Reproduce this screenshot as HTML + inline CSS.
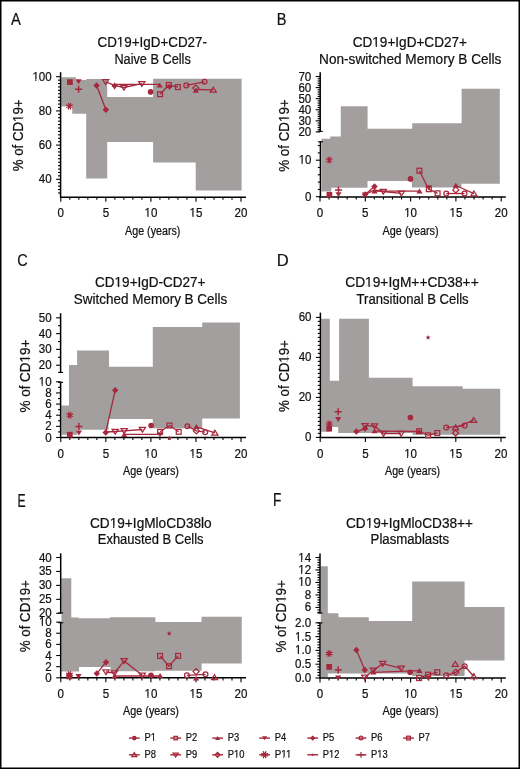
<!DOCTYPE html>
<html><head><meta charset="utf-8"><style>
html,body{margin:0;padding:0;background:#fff;}
svg{display:block;will-change:transform;}
text{font-family:"Liberation Sans", sans-serif;fill:#111;stroke:#111;stroke-width:0.22px;}
</style></head><body>
<svg width="520" height="769" viewBox="0 0 520 769">
<rect x="0" y="0" width="520" height="769" fill="#fff"/>
<rect x="0.75" y="0.75" width="518.5" height="767.5" fill="none" stroke="#000" stroke-width="1.5"/>
<text transform="translate(11.07,24.9) scale(0.862,1)" x="0" y="0" font-size="17.15">A</text>
<text x="97.5" y="46.6" font-size="13.8" text-anchor="start" textLength="109.5" lengthAdjust="spacingAndGlyphs">CD19+IgD+CD27-</text>
<text x="114.4" y="63.5" font-size="13.8" text-anchor="start" textLength="76.4" lengthAdjust="spacingAndGlyphs">Naive B Cells</text>
<text transform="translate(22.8,171.2) rotate(-90)" x="0" y="0" font-size="13.8" textLength="71.7" lengthAdjust="spacingAndGlyphs">% of CD19+</text>
<text x="125.1" y="234.7" font-size="11.9" text-anchor="start" textLength="55.3" lengthAdjust="spacingAndGlyphs">Age (years)</text>
<path d="M61.3,77.3V77.3H75.9V80H86.3V78.9H107.2V96.9H153.1V78.8H241.6V190.6H195.7V162.4H153.1V142H107.2V178.6H86.2V113.8H72.2V106.6H61.3Z" fill="#a39f9f"/>
<line x1="60.6" y1="72.2" x2="60.6" y2="197.2" stroke="#000" stroke-width="1.5"/>
<line x1="56.1" y1="179.3" x2="60.6" y2="179.3" stroke="#000" stroke-width="1.1"/>
<line x1="56.1" y1="145.1" x2="60.6" y2="145.1" stroke="#000" stroke-width="1.1"/>
<line x1="56.1" y1="110.9" x2="60.6" y2="110.9" stroke="#000" stroke-width="1.1"/>
<line x1="56.1" y1="76.7" x2="60.6" y2="76.7" stroke="#000" stroke-width="1.1"/>
<line x1="58" y1="192.98" x2="60.6" y2="192.98" stroke="#000" stroke-width="1.1"/>
<line x1="58" y1="189.56" x2="60.6" y2="189.56" stroke="#000" stroke-width="1.1"/>
<line x1="58" y1="186.14" x2="60.6" y2="186.14" stroke="#000" stroke-width="1.1"/>
<line x1="58" y1="182.72" x2="60.6" y2="182.72" stroke="#000" stroke-width="1.1"/>
<line x1="58" y1="175.88" x2="60.6" y2="175.88" stroke="#000" stroke-width="1.1"/>
<line x1="58" y1="172.46" x2="60.6" y2="172.46" stroke="#000" stroke-width="1.1"/>
<line x1="58" y1="169.04" x2="60.6" y2="169.04" stroke="#000" stroke-width="1.1"/>
<line x1="58" y1="165.62" x2="60.6" y2="165.62" stroke="#000" stroke-width="1.1"/>
<line x1="58" y1="162.2" x2="60.6" y2="162.2" stroke="#000" stroke-width="1.1"/>
<line x1="58" y1="158.78" x2="60.6" y2="158.78" stroke="#000" stroke-width="1.1"/>
<line x1="58" y1="155.36" x2="60.6" y2="155.36" stroke="#000" stroke-width="1.1"/>
<line x1="58" y1="151.94" x2="60.6" y2="151.94" stroke="#000" stroke-width="1.1"/>
<line x1="58" y1="148.52" x2="60.6" y2="148.52" stroke="#000" stroke-width="1.1"/>
<line x1="58" y1="141.68" x2="60.6" y2="141.68" stroke="#000" stroke-width="1.1"/>
<line x1="58" y1="138.26" x2="60.6" y2="138.26" stroke="#000" stroke-width="1.1"/>
<line x1="58" y1="134.84" x2="60.6" y2="134.84" stroke="#000" stroke-width="1.1"/>
<line x1="58" y1="131.42" x2="60.6" y2="131.42" stroke="#000" stroke-width="1.1"/>
<line x1="58" y1="128" x2="60.6" y2="128" stroke="#000" stroke-width="1.1"/>
<line x1="58" y1="124.58" x2="60.6" y2="124.58" stroke="#000" stroke-width="1.1"/>
<line x1="58" y1="121.16" x2="60.6" y2="121.16" stroke="#000" stroke-width="1.1"/>
<line x1="58" y1="117.74" x2="60.6" y2="117.74" stroke="#000" stroke-width="1.1"/>
<line x1="58" y1="114.32" x2="60.6" y2="114.32" stroke="#000" stroke-width="1.1"/>
<line x1="58" y1="107.48" x2="60.6" y2="107.48" stroke="#000" stroke-width="1.1"/>
<line x1="58" y1="104.06" x2="60.6" y2="104.06" stroke="#000" stroke-width="1.1"/>
<line x1="58" y1="100.64" x2="60.6" y2="100.64" stroke="#000" stroke-width="1.1"/>
<line x1="58" y1="97.22" x2="60.6" y2="97.22" stroke="#000" stroke-width="1.1"/>
<line x1="58" y1="93.8" x2="60.6" y2="93.8" stroke="#000" stroke-width="1.1"/>
<line x1="58" y1="90.38" x2="60.6" y2="90.38" stroke="#000" stroke-width="1.1"/>
<line x1="58" y1="86.96" x2="60.6" y2="86.96" stroke="#000" stroke-width="1.1"/>
<line x1="58" y1="83.54" x2="60.6" y2="83.54" stroke="#000" stroke-width="1.1"/>
<line x1="58" y1="80.12" x2="60.6" y2="80.12" stroke="#000" stroke-width="1.1"/>
<text x="51.7" y="80.7" font-size="12.3" text-anchor="end" textLength="19.29" lengthAdjust="spacingAndGlyphs">100</text>
<text x="51.7" y="114.9" font-size="12.3" text-anchor="end" textLength="12.86" lengthAdjust="spacingAndGlyphs">80</text>
<text x="51.7" y="149.1" font-size="12.3" text-anchor="end" textLength="12.86" lengthAdjust="spacingAndGlyphs">60</text>
<text x="51.7" y="183.3" font-size="12.3" text-anchor="end" textLength="12.86" lengthAdjust="spacingAndGlyphs">40</text>
<line x1="60.05" y1="197.2" x2="246" y2="197.2" stroke="#000" stroke-width="1.5"/>
<line x1="60.8" y1="197.2" x2="60.8" y2="201.7" stroke="#000" stroke-width="1.1"/>
<line x1="69.81" y1="197.2" x2="69.81" y2="199.8" stroke="#000" stroke-width="1.1"/>
<line x1="78.82" y1="197.2" x2="78.82" y2="199.8" stroke="#000" stroke-width="1.1"/>
<line x1="87.83" y1="197.2" x2="87.83" y2="199.8" stroke="#000" stroke-width="1.1"/>
<line x1="96.84" y1="197.2" x2="96.84" y2="199.8" stroke="#000" stroke-width="1.1"/>
<line x1="105.85" y1="197.2" x2="105.85" y2="201.7" stroke="#000" stroke-width="1.1"/>
<line x1="114.86" y1="197.2" x2="114.86" y2="199.8" stroke="#000" stroke-width="1.1"/>
<line x1="123.87" y1="197.2" x2="123.87" y2="199.8" stroke="#000" stroke-width="1.1"/>
<line x1="132.88" y1="197.2" x2="132.88" y2="199.8" stroke="#000" stroke-width="1.1"/>
<line x1="141.89" y1="197.2" x2="141.89" y2="199.8" stroke="#000" stroke-width="1.1"/>
<line x1="150.9" y1="197.2" x2="150.9" y2="201.7" stroke="#000" stroke-width="1.1"/>
<line x1="159.91" y1="197.2" x2="159.91" y2="199.8" stroke="#000" stroke-width="1.1"/>
<line x1="168.92" y1="197.2" x2="168.92" y2="199.8" stroke="#000" stroke-width="1.1"/>
<line x1="177.93" y1="197.2" x2="177.93" y2="199.8" stroke="#000" stroke-width="1.1"/>
<line x1="186.94" y1="197.2" x2="186.94" y2="199.8" stroke="#000" stroke-width="1.1"/>
<line x1="195.95" y1="197.2" x2="195.95" y2="201.7" stroke="#000" stroke-width="1.1"/>
<line x1="204.96" y1="197.2" x2="204.96" y2="199.8" stroke="#000" stroke-width="1.1"/>
<line x1="213.97" y1="197.2" x2="213.97" y2="199.8" stroke="#000" stroke-width="1.1"/>
<line x1="222.98" y1="197.2" x2="222.98" y2="199.8" stroke="#000" stroke-width="1.1"/>
<line x1="231.99" y1="197.2" x2="231.99" y2="199.8" stroke="#000" stroke-width="1.1"/>
<line x1="241" y1="197.2" x2="241" y2="201.7" stroke="#000" stroke-width="1.1"/>
<text x="60.8" y="217.3" font-size="12.3" text-anchor="middle" textLength="6.43" lengthAdjust="spacingAndGlyphs">0</text>
<text x="105.85" y="217.3" font-size="12.3" text-anchor="middle" textLength="6.43" lengthAdjust="spacingAndGlyphs">5</text>
<text x="150.9" y="217.3" font-size="12.3" text-anchor="middle" textLength="12.86" lengthAdjust="spacingAndGlyphs">10</text>
<text x="195.95" y="217.3" font-size="12.3" text-anchor="middle" textLength="12.86" lengthAdjust="spacingAndGlyphs">15</text>
<text x="241" y="217.3" font-size="12.3" text-anchor="middle" textLength="12.86" lengthAdjust="spacingAndGlyphs">20</text>
<text transform="translate(276.8,24.9) scale(0.854,1)" x="0" y="0" font-size="17.15">B</text>
<text x="352.7" y="46.8" font-size="13.8" text-anchor="start" textLength="114.3" lengthAdjust="spacingAndGlyphs">CD19+IgD+CD27+</text>
<text x="319.1" y="63.6" font-size="13.8" text-anchor="start" textLength="182.3" lengthAdjust="spacingAndGlyphs">Non-switched Memory B Cells</text>
<text transform="translate(288.8,171.7) rotate(-90)" x="0" y="0" font-size="13.8" textLength="72.3" lengthAdjust="spacingAndGlyphs">% of CD19+</text>
<text x="382.6" y="234.7" font-size="11.9" text-anchor="start" textLength="56" lengthAdjust="spacingAndGlyphs">Age (years)</text>
<path d="M321.5,138.8V138.8H330.2V136.4H340.8V106.3H367.6V128.7H412.2V123.3H461.6V88.7H499.8V183.8H461.4V187.5H411.9V180.9H367.5V187.7H331.3V191.6H321.5Z" fill="#a39f9f"/>
<line x1="320.2" y1="72.2" x2="320.2" y2="131.9" stroke="#000" stroke-width="1.5"/>
<line x1="315.7" y1="131.9" x2="320.2" y2="131.9" stroke="#000" stroke-width="1.1"/>
<line x1="315.7" y1="120.82" x2="320.2" y2="120.82" stroke="#000" stroke-width="1.1"/>
<line x1="315.7" y1="109.74" x2="320.2" y2="109.74" stroke="#000" stroke-width="1.1"/>
<line x1="315.7" y1="98.66" x2="320.2" y2="98.66" stroke="#000" stroke-width="1.1"/>
<line x1="315.7" y1="87.58" x2="320.2" y2="87.58" stroke="#000" stroke-width="1.1"/>
<line x1="315.7" y1="76.5" x2="320.2" y2="76.5" stroke="#000" stroke-width="1.1"/>
<line x1="317.6" y1="129.68" x2="320.2" y2="129.68" stroke="#000" stroke-width="1.1"/>
<line x1="317.6" y1="127.47" x2="320.2" y2="127.47" stroke="#000" stroke-width="1.1"/>
<line x1="317.6" y1="125.25" x2="320.2" y2="125.25" stroke="#000" stroke-width="1.1"/>
<line x1="317.6" y1="123.04" x2="320.2" y2="123.04" stroke="#000" stroke-width="1.1"/>
<line x1="317.6" y1="118.6" x2="320.2" y2="118.6" stroke="#000" stroke-width="1.1"/>
<line x1="317.6" y1="116.39" x2="320.2" y2="116.39" stroke="#000" stroke-width="1.1"/>
<line x1="317.6" y1="114.17" x2="320.2" y2="114.17" stroke="#000" stroke-width="1.1"/>
<line x1="317.6" y1="111.96" x2="320.2" y2="111.96" stroke="#000" stroke-width="1.1"/>
<line x1="317.6" y1="107.52" x2="320.2" y2="107.52" stroke="#000" stroke-width="1.1"/>
<line x1="317.6" y1="105.31" x2="320.2" y2="105.31" stroke="#000" stroke-width="1.1"/>
<line x1="317.6" y1="103.09" x2="320.2" y2="103.09" stroke="#000" stroke-width="1.1"/>
<line x1="317.6" y1="100.88" x2="320.2" y2="100.88" stroke="#000" stroke-width="1.1"/>
<line x1="317.6" y1="96.44" x2="320.2" y2="96.44" stroke="#000" stroke-width="1.1"/>
<line x1="317.6" y1="94.23" x2="320.2" y2="94.23" stroke="#000" stroke-width="1.1"/>
<line x1="317.6" y1="92.01" x2="320.2" y2="92.01" stroke="#000" stroke-width="1.1"/>
<line x1="317.6" y1="89.8" x2="320.2" y2="89.8" stroke="#000" stroke-width="1.1"/>
<line x1="317.6" y1="85.36" x2="320.2" y2="85.36" stroke="#000" stroke-width="1.1"/>
<line x1="317.6" y1="83.15" x2="320.2" y2="83.15" stroke="#000" stroke-width="1.1"/>
<line x1="317.6" y1="80.93" x2="320.2" y2="80.93" stroke="#000" stroke-width="1.1"/>
<line x1="317.6" y1="78.72" x2="320.2" y2="78.72" stroke="#000" stroke-width="1.1"/>
<text x="311.3" y="135.9" font-size="12.3" text-anchor="end" textLength="12.86" lengthAdjust="spacingAndGlyphs">20</text>
<text x="311.3" y="124.82" font-size="12.3" text-anchor="end" textLength="12.86" lengthAdjust="spacingAndGlyphs">30</text>
<text x="311.3" y="113.74" font-size="12.3" text-anchor="end" textLength="12.86" lengthAdjust="spacingAndGlyphs">40</text>
<text x="311.3" y="102.66" font-size="12.3" text-anchor="end" textLength="12.86" lengthAdjust="spacingAndGlyphs">50</text>
<text x="311.3" y="91.58" font-size="12.3" text-anchor="end" textLength="12.86" lengthAdjust="spacingAndGlyphs">60</text>
<text x="311.3" y="80.5" font-size="12.3" text-anchor="end" textLength="12.86" lengthAdjust="spacingAndGlyphs">70</text>
<line x1="317.7" y1="131.4" x2="322.7" y2="131.4" stroke="#000" stroke-width="1.1"/>
<line x1="320.4" y1="141.3" x2="320.4" y2="196.9" stroke="#000" stroke-width="1.5"/>
<line x1="315.9" y1="196.7" x2="320.4" y2="196.7" stroke="#000" stroke-width="1.1"/>
<line x1="315.9" y1="160.2" x2="320.4" y2="160.2" stroke="#000" stroke-width="1.1"/>
<line x1="317.8" y1="189.4" x2="320.4" y2="189.4" stroke="#000" stroke-width="1.1"/>
<line x1="317.8" y1="182.1" x2="320.4" y2="182.1" stroke="#000" stroke-width="1.1"/>
<line x1="317.8" y1="174.8" x2="320.4" y2="174.8" stroke="#000" stroke-width="1.1"/>
<line x1="317.8" y1="167.5" x2="320.4" y2="167.5" stroke="#000" stroke-width="1.1"/>
<line x1="317.8" y1="152.9" x2="320.4" y2="152.9" stroke="#000" stroke-width="1.1"/>
<line x1="317.8" y1="145.6" x2="320.4" y2="145.6" stroke="#000" stroke-width="1.1"/>
<text x="311.5" y="200.7" font-size="12.3" text-anchor="end" textLength="6.43" lengthAdjust="spacingAndGlyphs">0</text>
<text x="311.5" y="164.2" font-size="12.3" text-anchor="end" textLength="12.86" lengthAdjust="spacingAndGlyphs">10</text>
<line x1="317.9" y1="141.8" x2="322.9" y2="141.8" stroke="#000" stroke-width="1.1"/>
<line x1="319.25" y1="196.9" x2="505.8" y2="196.9" stroke="#000" stroke-width="1.5"/>
<line x1="320" y1="196.9" x2="320" y2="201.4" stroke="#000" stroke-width="1.1"/>
<line x1="329.06" y1="196.9" x2="329.06" y2="199.5" stroke="#000" stroke-width="1.1"/>
<line x1="338.12" y1="196.9" x2="338.12" y2="199.5" stroke="#000" stroke-width="1.1"/>
<line x1="347.18" y1="196.9" x2="347.18" y2="199.5" stroke="#000" stroke-width="1.1"/>
<line x1="356.24" y1="196.9" x2="356.24" y2="199.5" stroke="#000" stroke-width="1.1"/>
<line x1="365.3" y1="196.9" x2="365.3" y2="201.4" stroke="#000" stroke-width="1.1"/>
<line x1="374.36" y1="196.9" x2="374.36" y2="199.5" stroke="#000" stroke-width="1.1"/>
<line x1="383.42" y1="196.9" x2="383.42" y2="199.5" stroke="#000" stroke-width="1.1"/>
<line x1="392.48" y1="196.9" x2="392.48" y2="199.5" stroke="#000" stroke-width="1.1"/>
<line x1="401.54" y1="196.9" x2="401.54" y2="199.5" stroke="#000" stroke-width="1.1"/>
<line x1="410.6" y1="196.9" x2="410.6" y2="201.4" stroke="#000" stroke-width="1.1"/>
<line x1="419.66" y1="196.9" x2="419.66" y2="199.5" stroke="#000" stroke-width="1.1"/>
<line x1="428.72" y1="196.9" x2="428.72" y2="199.5" stroke="#000" stroke-width="1.1"/>
<line x1="437.78" y1="196.9" x2="437.78" y2="199.5" stroke="#000" stroke-width="1.1"/>
<line x1="446.84" y1="196.9" x2="446.84" y2="199.5" stroke="#000" stroke-width="1.1"/>
<line x1="455.9" y1="196.9" x2="455.9" y2="201.4" stroke="#000" stroke-width="1.1"/>
<line x1="464.96" y1="196.9" x2="464.96" y2="199.5" stroke="#000" stroke-width="1.1"/>
<line x1="474.02" y1="196.9" x2="474.02" y2="199.5" stroke="#000" stroke-width="1.1"/>
<line x1="483.08" y1="196.9" x2="483.08" y2="199.5" stroke="#000" stroke-width="1.1"/>
<line x1="492.14" y1="196.9" x2="492.14" y2="199.5" stroke="#000" stroke-width="1.1"/>
<line x1="501.2" y1="196.9" x2="501.2" y2="201.4" stroke="#000" stroke-width="1.1"/>
<text x="320" y="217.3" font-size="12.3" text-anchor="middle" textLength="6.43" lengthAdjust="spacingAndGlyphs">0</text>
<text x="365.3" y="217.3" font-size="12.3" text-anchor="middle" textLength="6.43" lengthAdjust="spacingAndGlyphs">5</text>
<text x="410.6" y="217.3" font-size="12.3" text-anchor="middle" textLength="12.86" lengthAdjust="spacingAndGlyphs">10</text>
<text x="455.9" y="217.3" font-size="12.3" text-anchor="middle" textLength="12.86" lengthAdjust="spacingAndGlyphs">15</text>
<text x="501.2" y="217.3" font-size="12.3" text-anchor="middle" textLength="12.86" lengthAdjust="spacingAndGlyphs">20</text>
<text transform="translate(17.26,266.03) scale(0.843,1)" x="0" y="0" font-size="17.23">C</text>
<text x="95.1" y="287.2" font-size="13.8" text-anchor="start" textLength="110.4" lengthAdjust="spacingAndGlyphs">CD19+IgD-CD27+</text>
<text x="73.8" y="303.6" font-size="13.8" text-anchor="start" textLength="153.5" lengthAdjust="spacingAndGlyphs">Switched Memory B Cells</text>
<text transform="translate(30.1,412.5) rotate(-90)" x="0" y="0" font-size="13.8" textLength="72.8" lengthAdjust="spacingAndGlyphs">% of CD19+</text>
<text x="123.1" y="474.7" font-size="11.9" text-anchor="start" textLength="55.8" lengthAdjust="spacingAndGlyphs">Age (years)</text>
<path d="M61.4,405.5V405.5H69V364.9H77.1V350.5H109V366.8H152.8V326.9H202.2V322.5H239.9V418.6H202.2V428.3H152.7V419.1H108.5V429.8H77V434.8H61.4Z" fill="#a39f9f"/>
<line x1="60.6" y1="313.2" x2="60.6" y2="372.9" stroke="#000" stroke-width="1.5"/>
<line x1="56.1" y1="365.2" x2="60.6" y2="365.2" stroke="#000" stroke-width="1.1"/>
<line x1="56.1" y1="349.4" x2="60.6" y2="349.4" stroke="#000" stroke-width="1.1"/>
<line x1="56.1" y1="333.6" x2="60.6" y2="333.6" stroke="#000" stroke-width="1.1"/>
<line x1="56.1" y1="317.8" x2="60.6" y2="317.8" stroke="#000" stroke-width="1.1"/>
<line x1="58" y1="357.3" x2="60.6" y2="357.3" stroke="#000" stroke-width="1.1"/>
<line x1="58" y1="341.5" x2="60.6" y2="341.5" stroke="#000" stroke-width="1.1"/>
<line x1="58" y1="325.7" x2="60.6" y2="325.7" stroke="#000" stroke-width="1.1"/>
<text x="51.7" y="369.2" font-size="12.3" text-anchor="end" textLength="12.86" lengthAdjust="spacingAndGlyphs">20</text>
<text x="51.7" y="353.4" font-size="12.3" text-anchor="end" textLength="12.86" lengthAdjust="spacingAndGlyphs">30</text>
<text x="51.7" y="337.6" font-size="12.3" text-anchor="end" textLength="12.86" lengthAdjust="spacingAndGlyphs">40</text>
<text x="51.7" y="321.8" font-size="12.3" text-anchor="end" textLength="12.86" lengthAdjust="spacingAndGlyphs">50</text>
<line x1="58.1" y1="372.4" x2="63.1" y2="372.4" stroke="#000" stroke-width="1.1"/>
<line x1="60.6" y1="381.8" x2="60.6" y2="437.5" stroke="#000" stroke-width="1.5"/>
<line x1="56.1" y1="437.5" x2="60.6" y2="437.5" stroke="#000" stroke-width="1.1"/>
<line x1="56.1" y1="426.36" x2="60.6" y2="426.36" stroke="#000" stroke-width="1.1"/>
<line x1="56.1" y1="415.22" x2="60.6" y2="415.22" stroke="#000" stroke-width="1.1"/>
<line x1="56.1" y1="404.08" x2="60.6" y2="404.08" stroke="#000" stroke-width="1.1"/>
<line x1="56.1" y1="392.94" x2="60.6" y2="392.94" stroke="#000" stroke-width="1.1"/>
<line x1="56.1" y1="381.8" x2="60.6" y2="381.8" stroke="#000" stroke-width="1.1"/>
<line x1="58" y1="431.93" x2="60.6" y2="431.93" stroke="#000" stroke-width="1.1"/>
<line x1="58" y1="420.79" x2="60.6" y2="420.79" stroke="#000" stroke-width="1.1"/>
<line x1="58" y1="409.65" x2="60.6" y2="409.65" stroke="#000" stroke-width="1.1"/>
<line x1="58" y1="398.51" x2="60.6" y2="398.51" stroke="#000" stroke-width="1.1"/>
<line x1="58" y1="387.37" x2="60.6" y2="387.37" stroke="#000" stroke-width="1.1"/>
<text x="51.7" y="441.5" font-size="12.3" text-anchor="end" textLength="6.43" lengthAdjust="spacingAndGlyphs">0</text>
<text x="51.7" y="430.36" font-size="12.3" text-anchor="end" textLength="6.43" lengthAdjust="spacingAndGlyphs">2</text>
<text x="51.7" y="419.22" font-size="12.3" text-anchor="end" textLength="6.43" lengthAdjust="spacingAndGlyphs">4</text>
<text x="51.7" y="408.08" font-size="12.3" text-anchor="end" textLength="6.43" lengthAdjust="spacingAndGlyphs">6</text>
<text x="51.7" y="396.94" font-size="12.3" text-anchor="end" textLength="6.43" lengthAdjust="spacingAndGlyphs">8</text>
<text x="51.7" y="385.8" font-size="12.3" text-anchor="end" textLength="12.86" lengthAdjust="spacingAndGlyphs">10</text>
<line x1="58.1" y1="382.3" x2="63.1" y2="382.3" stroke="#000" stroke-width="1.1"/>
<line x1="60.05" y1="437.5" x2="246" y2="437.5" stroke="#000" stroke-width="1.5"/>
<line x1="60.8" y1="437.5" x2="60.8" y2="442" stroke="#000" stroke-width="1.1"/>
<line x1="69.81" y1="437.5" x2="69.81" y2="440.1" stroke="#000" stroke-width="1.1"/>
<line x1="78.82" y1="437.5" x2="78.82" y2="440.1" stroke="#000" stroke-width="1.1"/>
<line x1="87.83" y1="437.5" x2="87.83" y2="440.1" stroke="#000" stroke-width="1.1"/>
<line x1="96.84" y1="437.5" x2="96.84" y2="440.1" stroke="#000" stroke-width="1.1"/>
<line x1="105.85" y1="437.5" x2="105.85" y2="442" stroke="#000" stroke-width="1.1"/>
<line x1="114.86" y1="437.5" x2="114.86" y2="440.1" stroke="#000" stroke-width="1.1"/>
<line x1="123.87" y1="437.5" x2="123.87" y2="440.1" stroke="#000" stroke-width="1.1"/>
<line x1="132.88" y1="437.5" x2="132.88" y2="440.1" stroke="#000" stroke-width="1.1"/>
<line x1="141.89" y1="437.5" x2="141.89" y2="440.1" stroke="#000" stroke-width="1.1"/>
<line x1="150.9" y1="437.5" x2="150.9" y2="442" stroke="#000" stroke-width="1.1"/>
<line x1="159.91" y1="437.5" x2="159.91" y2="440.1" stroke="#000" stroke-width="1.1"/>
<line x1="168.92" y1="437.5" x2="168.92" y2="440.1" stroke="#000" stroke-width="1.1"/>
<line x1="177.93" y1="437.5" x2="177.93" y2="440.1" stroke="#000" stroke-width="1.1"/>
<line x1="186.94" y1="437.5" x2="186.94" y2="440.1" stroke="#000" stroke-width="1.1"/>
<line x1="195.95" y1="437.5" x2="195.95" y2="442" stroke="#000" stroke-width="1.1"/>
<line x1="204.96" y1="437.5" x2="204.96" y2="440.1" stroke="#000" stroke-width="1.1"/>
<line x1="213.97" y1="437.5" x2="213.97" y2="440.1" stroke="#000" stroke-width="1.1"/>
<line x1="222.98" y1="437.5" x2="222.98" y2="440.1" stroke="#000" stroke-width="1.1"/>
<line x1="231.99" y1="437.5" x2="231.99" y2="440.1" stroke="#000" stroke-width="1.1"/>
<line x1="241" y1="437.5" x2="241" y2="442" stroke="#000" stroke-width="1.1"/>
<text x="60.8" y="457.6" font-size="12.3" text-anchor="middle" textLength="6.43" lengthAdjust="spacingAndGlyphs">0</text>
<text x="105.85" y="457.6" font-size="12.3" text-anchor="middle" textLength="6.43" lengthAdjust="spacingAndGlyphs">5</text>
<text x="150.9" y="457.6" font-size="12.3" text-anchor="middle" textLength="12.86" lengthAdjust="spacingAndGlyphs">10</text>
<text x="195.95" y="457.6" font-size="12.3" text-anchor="middle" textLength="12.86" lengthAdjust="spacingAndGlyphs">15</text>
<text x="241" y="457.6" font-size="12.3" text-anchor="middle" textLength="12.86" lengthAdjust="spacingAndGlyphs">20</text>
<text transform="translate(276.64,265.6) scale(0.981,1)" x="0" y="0" font-size="16.86">D</text>
<text x="345.2" y="287.2" font-size="13.8" text-anchor="start" textLength="133.5" lengthAdjust="spacingAndGlyphs">CD19+IgM++CD38++</text>
<text x="356.6" y="303.6" font-size="13.8" text-anchor="start" textLength="112" lengthAdjust="spacingAndGlyphs">Transitional B Cells</text>
<text transform="translate(289.4,411.9) rotate(-90)" x="0" y="0" font-size="13.8" textLength="71.7" lengthAdjust="spacingAndGlyphs">% of CD19+</text>
<text x="385.1" y="474.7" font-size="11.9" text-anchor="start" textLength="55" lengthAdjust="spacingAndGlyphs">Age (years)</text>
<path d="M321.2,318.7V318.7H329.8V380.8H339.1V318.7H368.9V377.7H412.6V386.3H462.7V388.8H500.2V434.8H412.6V433H338.2V427H330.5V431.8H321.2Z" fill="#a39f9f"/>
<line x1="320.4" y1="312.6" x2="320.4" y2="437.4" stroke="#000" stroke-width="1.5"/>
<line x1="315.9" y1="437.4" x2="320.4" y2="437.4" stroke="#000" stroke-width="1.1"/>
<line x1="315.9" y1="397.4" x2="320.4" y2="397.4" stroke="#000" stroke-width="1.1"/>
<line x1="315.9" y1="357.4" x2="320.4" y2="357.4" stroke="#000" stroke-width="1.1"/>
<line x1="315.9" y1="317.4" x2="320.4" y2="317.4" stroke="#000" stroke-width="1.1"/>
<line x1="317.8" y1="433.4" x2="320.4" y2="433.4" stroke="#000" stroke-width="1.1"/>
<line x1="317.8" y1="429.4" x2="320.4" y2="429.4" stroke="#000" stroke-width="1.1"/>
<line x1="317.8" y1="425.4" x2="320.4" y2="425.4" stroke="#000" stroke-width="1.1"/>
<line x1="317.8" y1="421.4" x2="320.4" y2="421.4" stroke="#000" stroke-width="1.1"/>
<line x1="317.8" y1="417.4" x2="320.4" y2="417.4" stroke="#000" stroke-width="1.1"/>
<line x1="317.8" y1="413.4" x2="320.4" y2="413.4" stroke="#000" stroke-width="1.1"/>
<line x1="317.8" y1="409.4" x2="320.4" y2="409.4" stroke="#000" stroke-width="1.1"/>
<line x1="317.8" y1="405.4" x2="320.4" y2="405.4" stroke="#000" stroke-width="1.1"/>
<line x1="317.8" y1="401.4" x2="320.4" y2="401.4" stroke="#000" stroke-width="1.1"/>
<line x1="317.8" y1="393.4" x2="320.4" y2="393.4" stroke="#000" stroke-width="1.1"/>
<line x1="317.8" y1="389.4" x2="320.4" y2="389.4" stroke="#000" stroke-width="1.1"/>
<line x1="317.8" y1="385.4" x2="320.4" y2="385.4" stroke="#000" stroke-width="1.1"/>
<line x1="317.8" y1="381.4" x2="320.4" y2="381.4" stroke="#000" stroke-width="1.1"/>
<line x1="317.8" y1="377.4" x2="320.4" y2="377.4" stroke="#000" stroke-width="1.1"/>
<line x1="317.8" y1="373.4" x2="320.4" y2="373.4" stroke="#000" stroke-width="1.1"/>
<line x1="317.8" y1="369.4" x2="320.4" y2="369.4" stroke="#000" stroke-width="1.1"/>
<line x1="317.8" y1="365.4" x2="320.4" y2="365.4" stroke="#000" stroke-width="1.1"/>
<line x1="317.8" y1="361.4" x2="320.4" y2="361.4" stroke="#000" stroke-width="1.1"/>
<line x1="317.8" y1="353.4" x2="320.4" y2="353.4" stroke="#000" stroke-width="1.1"/>
<line x1="317.8" y1="349.4" x2="320.4" y2="349.4" stroke="#000" stroke-width="1.1"/>
<line x1="317.8" y1="345.4" x2="320.4" y2="345.4" stroke="#000" stroke-width="1.1"/>
<line x1="317.8" y1="341.4" x2="320.4" y2="341.4" stroke="#000" stroke-width="1.1"/>
<line x1="317.8" y1="337.4" x2="320.4" y2="337.4" stroke="#000" stroke-width="1.1"/>
<line x1="317.8" y1="333.4" x2="320.4" y2="333.4" stroke="#000" stroke-width="1.1"/>
<line x1="317.8" y1="329.4" x2="320.4" y2="329.4" stroke="#000" stroke-width="1.1"/>
<line x1="317.8" y1="325.4" x2="320.4" y2="325.4" stroke="#000" stroke-width="1.1"/>
<line x1="317.8" y1="321.4" x2="320.4" y2="321.4" stroke="#000" stroke-width="1.1"/>
<text x="311.5" y="441.4" font-size="12.3" text-anchor="end" textLength="6.43" lengthAdjust="spacingAndGlyphs">0</text>
<text x="311.5" y="401.4" font-size="12.3" text-anchor="end" textLength="12.86" lengthAdjust="spacingAndGlyphs">20</text>
<text x="311.5" y="361.4" font-size="12.3" text-anchor="end" textLength="12.86" lengthAdjust="spacingAndGlyphs">40</text>
<text x="311.5" y="321.4" font-size="12.3" text-anchor="end" textLength="12.86" lengthAdjust="spacingAndGlyphs">60</text>
<line x1="319.45" y1="437.4" x2="505.8" y2="437.4" stroke="#000" stroke-width="1.5"/>
<line x1="320.2" y1="437.4" x2="320.2" y2="441.9" stroke="#000" stroke-width="1.1"/>
<line x1="365.4" y1="437.4" x2="365.4" y2="441.9" stroke="#000" stroke-width="1.1"/>
<line x1="410.6" y1="437.4" x2="410.6" y2="441.9" stroke="#000" stroke-width="1.1"/>
<line x1="455.8" y1="437.4" x2="455.8" y2="441.9" stroke="#000" stroke-width="1.1"/>
<line x1="501" y1="437.4" x2="501" y2="441.9" stroke="#000" stroke-width="1.1"/>
<text x="320.2" y="457.6" font-size="12.3" text-anchor="middle" textLength="6.43" lengthAdjust="spacingAndGlyphs">0</text>
<text x="365.4" y="457.6" font-size="12.3" text-anchor="middle" textLength="6.43" lengthAdjust="spacingAndGlyphs">5</text>
<text x="410.6" y="457.6" font-size="12.3" text-anchor="middle" textLength="12.86" lengthAdjust="spacingAndGlyphs">10</text>
<text x="455.8" y="457.6" font-size="12.3" text-anchor="middle" textLength="12.86" lengthAdjust="spacingAndGlyphs">15</text>
<text x="501" y="457.6" font-size="12.3" text-anchor="middle" textLength="12.86" lengthAdjust="spacingAndGlyphs">20</text>
<text transform="translate(17.6,506.7) scale(0.676,1)" x="0" y="0" font-size="18.02">E</text>
<text x="90" y="527.5" font-size="13.8" text-anchor="start" textLength="121.7" lengthAdjust="spacingAndGlyphs">CD19+IgMloCD38lo</text>
<text x="97.8" y="544.3" font-size="13.8" text-anchor="start" textLength="105.8" lengthAdjust="spacingAndGlyphs">Exhausted B Cells</text>
<text transform="translate(30.1,652.2) rotate(-90)" x="0" y="0" font-size="13.8" textLength="72" lengthAdjust="spacingAndGlyphs">% of CD19+</text>
<text x="123.1" y="715" font-size="11.9" text-anchor="start" textLength="55.8" lengthAdjust="spacingAndGlyphs">Age (years)</text>
<path d="M61.4,578.3V578.3H71.3V617.5H78.6V618.3H109.8V617.3H155.4V621.9H201.5V616.7H241.7V663.5H201.6V670.8H155.4V671.3H110.5V667H79V671.5H61.4Z" fill="#a39f9f"/>
<line x1="60.7" y1="553.3" x2="60.7" y2="613.4" stroke="#000" stroke-width="1.5"/>
<line x1="56.2" y1="613.3" x2="60.7" y2="613.3" stroke="#000" stroke-width="1.1"/>
<line x1="56.2" y1="599.35" x2="60.7" y2="599.35" stroke="#000" stroke-width="1.1"/>
<line x1="56.2" y1="585.4" x2="60.7" y2="585.4" stroke="#000" stroke-width="1.1"/>
<line x1="56.2" y1="571.45" x2="60.7" y2="571.45" stroke="#000" stroke-width="1.1"/>
<line x1="56.2" y1="557.5" x2="60.7" y2="557.5" stroke="#000" stroke-width="1.1"/>
<text x="51.8" y="617.3" font-size="12.3" text-anchor="end" textLength="12.86" lengthAdjust="spacingAndGlyphs">20</text>
<text x="51.8" y="603.35" font-size="12.3" text-anchor="end" textLength="12.86" lengthAdjust="spacingAndGlyphs">25</text>
<text x="51.8" y="589.4" font-size="12.3" text-anchor="end" textLength="12.86" lengthAdjust="spacingAndGlyphs">30</text>
<text x="51.8" y="575.45" font-size="12.3" text-anchor="end" textLength="12.86" lengthAdjust="spacingAndGlyphs">35</text>
<text x="51.8" y="561.5" font-size="12.3" text-anchor="end" textLength="12.86" lengthAdjust="spacingAndGlyphs">40</text>
<line x1="58.2" y1="612.9" x2="63.2" y2="612.9" stroke="#000" stroke-width="1.1"/>
<line x1="60.7" y1="622.2" x2="60.7" y2="677.8" stroke="#000" stroke-width="1.5"/>
<line x1="56.2" y1="677.8" x2="60.7" y2="677.8" stroke="#000" stroke-width="1.1"/>
<line x1="56.2" y1="666.66" x2="60.7" y2="666.66" stroke="#000" stroke-width="1.1"/>
<line x1="56.2" y1="655.52" x2="60.7" y2="655.52" stroke="#000" stroke-width="1.1"/>
<line x1="56.2" y1="644.38" x2="60.7" y2="644.38" stroke="#000" stroke-width="1.1"/>
<line x1="56.2" y1="633.24" x2="60.7" y2="633.24" stroke="#000" stroke-width="1.1"/>
<line x1="56.2" y1="622.1" x2="60.7" y2="622.1" stroke="#000" stroke-width="1.1"/>
<text x="51.8" y="681.8" font-size="12.3" text-anchor="end" textLength="6.43" lengthAdjust="spacingAndGlyphs">0</text>
<text x="51.8" y="670.66" font-size="12.3" text-anchor="end" textLength="6.43" lengthAdjust="spacingAndGlyphs">2</text>
<text x="51.8" y="659.52" font-size="12.3" text-anchor="end" textLength="6.43" lengthAdjust="spacingAndGlyphs">4</text>
<text x="51.8" y="648.38" font-size="12.3" text-anchor="end" textLength="6.43" lengthAdjust="spacingAndGlyphs">6</text>
<text x="51.8" y="637.24" font-size="12.3" text-anchor="end" textLength="6.43" lengthAdjust="spacingAndGlyphs">8</text>
<text x="51.8" y="626.1" font-size="12.3" text-anchor="end" textLength="12.86" lengthAdjust="spacingAndGlyphs">10</text>
<line x1="58.2" y1="622.7" x2="63.2" y2="622.7" stroke="#000" stroke-width="1.1"/>
<line x1="60.05" y1="677.8" x2="246" y2="677.8" stroke="#000" stroke-width="1.5"/>
<line x1="60.8" y1="677.8" x2="60.8" y2="682.3" stroke="#000" stroke-width="1.1"/>
<line x1="69.81" y1="677.8" x2="69.81" y2="680.4" stroke="#000" stroke-width="1.1"/>
<line x1="78.82" y1="677.8" x2="78.82" y2="680.4" stroke="#000" stroke-width="1.1"/>
<line x1="87.83" y1="677.8" x2="87.83" y2="680.4" stroke="#000" stroke-width="1.1"/>
<line x1="96.84" y1="677.8" x2="96.84" y2="680.4" stroke="#000" stroke-width="1.1"/>
<line x1="105.85" y1="677.8" x2="105.85" y2="682.3" stroke="#000" stroke-width="1.1"/>
<line x1="114.86" y1="677.8" x2="114.86" y2="680.4" stroke="#000" stroke-width="1.1"/>
<line x1="123.87" y1="677.8" x2="123.87" y2="680.4" stroke="#000" stroke-width="1.1"/>
<line x1="132.88" y1="677.8" x2="132.88" y2="680.4" stroke="#000" stroke-width="1.1"/>
<line x1="141.89" y1="677.8" x2="141.89" y2="680.4" stroke="#000" stroke-width="1.1"/>
<line x1="150.9" y1="677.8" x2="150.9" y2="682.3" stroke="#000" stroke-width="1.1"/>
<line x1="159.91" y1="677.8" x2="159.91" y2="680.4" stroke="#000" stroke-width="1.1"/>
<line x1="168.92" y1="677.8" x2="168.92" y2="680.4" stroke="#000" stroke-width="1.1"/>
<line x1="177.93" y1="677.8" x2="177.93" y2="680.4" stroke="#000" stroke-width="1.1"/>
<line x1="186.94" y1="677.8" x2="186.94" y2="680.4" stroke="#000" stroke-width="1.1"/>
<line x1="195.95" y1="677.8" x2="195.95" y2="682.3" stroke="#000" stroke-width="1.1"/>
<line x1="204.96" y1="677.8" x2="204.96" y2="680.4" stroke="#000" stroke-width="1.1"/>
<line x1="213.97" y1="677.8" x2="213.97" y2="680.4" stroke="#000" stroke-width="1.1"/>
<line x1="222.98" y1="677.8" x2="222.98" y2="680.4" stroke="#000" stroke-width="1.1"/>
<line x1="231.99" y1="677.8" x2="231.99" y2="680.4" stroke="#000" stroke-width="1.1"/>
<line x1="241" y1="677.8" x2="241" y2="682.3" stroke="#000" stroke-width="1.1"/>
<text x="60.8" y="697.9" font-size="12.3" text-anchor="middle" textLength="6.43" lengthAdjust="spacingAndGlyphs">0</text>
<text x="105.85" y="697.9" font-size="12.3" text-anchor="middle" textLength="6.43" lengthAdjust="spacingAndGlyphs">5</text>
<text x="150.9" y="697.9" font-size="12.3" text-anchor="middle" textLength="12.86" lengthAdjust="spacingAndGlyphs">10</text>
<text x="195.95" y="697.9" font-size="12.3" text-anchor="middle" textLength="12.86" lengthAdjust="spacingAndGlyphs">15</text>
<text x="241" y="697.9" font-size="12.3" text-anchor="middle" textLength="12.86" lengthAdjust="spacingAndGlyphs">20</text>
<text transform="translate(273.08,506.4) scale(0.779,1)" x="0" y="0" font-size="17.59">F</text>
<text x="346" y="527.5" font-size="13.8" text-anchor="start" textLength="127" lengthAdjust="spacingAndGlyphs">CD19+IgMloCD38++</text>
<text x="370.6" y="544.3" font-size="13.8" text-anchor="start" textLength="78.5" lengthAdjust="spacingAndGlyphs">Plasmablasts</text>
<text transform="translate(286.1,652.5) rotate(-90)" x="0" y="0" font-size="13.8" textLength="72.3" lengthAdjust="spacingAndGlyphs">% of CD19+</text>
<text x="382.6" y="715" font-size="11.9" text-anchor="start" textLength="56" lengthAdjust="spacingAndGlyphs">Age (years)</text>
<path d="M320.8,566.2V566.2H327.8V613.2H338.5V617.2H368.8V621.1H412.2V581.5H464.6V607.1H504.5V660.6H464.6V676H412.2V673.6H327.8V676.9H320.8Z" fill="#a39f9f"/>
<line x1="320" y1="553.5" x2="320" y2="613.5" stroke="#000" stroke-width="1.5"/>
<line x1="315.5" y1="607.42" x2="320" y2="607.42" stroke="#000" stroke-width="1.1"/>
<line x1="315.5" y1="594.94" x2="320" y2="594.94" stroke="#000" stroke-width="1.1"/>
<line x1="315.5" y1="582.46" x2="320" y2="582.46" stroke="#000" stroke-width="1.1"/>
<line x1="315.5" y1="569.98" x2="320" y2="569.98" stroke="#000" stroke-width="1.1"/>
<line x1="315.5" y1="557.5" x2="320" y2="557.5" stroke="#000" stroke-width="1.1"/>
<line x1="317.4" y1="612.41" x2="320" y2="612.41" stroke="#000" stroke-width="1.1"/>
<line x1="317.4" y1="609.92" x2="320" y2="609.92" stroke="#000" stroke-width="1.1"/>
<line x1="317.4" y1="604.92" x2="320" y2="604.92" stroke="#000" stroke-width="1.1"/>
<line x1="317.4" y1="602.43" x2="320" y2="602.43" stroke="#000" stroke-width="1.1"/>
<line x1="317.4" y1="599.93" x2="320" y2="599.93" stroke="#000" stroke-width="1.1"/>
<line x1="317.4" y1="597.44" x2="320" y2="597.44" stroke="#000" stroke-width="1.1"/>
<line x1="317.4" y1="592.44" x2="320" y2="592.44" stroke="#000" stroke-width="1.1"/>
<line x1="317.4" y1="589.95" x2="320" y2="589.95" stroke="#000" stroke-width="1.1"/>
<line x1="317.4" y1="587.45" x2="320" y2="587.45" stroke="#000" stroke-width="1.1"/>
<line x1="317.4" y1="584.96" x2="320" y2="584.96" stroke="#000" stroke-width="1.1"/>
<line x1="317.4" y1="579.96" x2="320" y2="579.96" stroke="#000" stroke-width="1.1"/>
<line x1="317.4" y1="577.47" x2="320" y2="577.47" stroke="#000" stroke-width="1.1"/>
<line x1="317.4" y1="574.97" x2="320" y2="574.97" stroke="#000" stroke-width="1.1"/>
<line x1="317.4" y1="572.48" x2="320" y2="572.48" stroke="#000" stroke-width="1.1"/>
<line x1="317.4" y1="567.48" x2="320" y2="567.48" stroke="#000" stroke-width="1.1"/>
<line x1="317.4" y1="564.99" x2="320" y2="564.99" stroke="#000" stroke-width="1.1"/>
<line x1="317.4" y1="562.49" x2="320" y2="562.49" stroke="#000" stroke-width="1.1"/>
<line x1="317.4" y1="560" x2="320" y2="560" stroke="#000" stroke-width="1.1"/>
<text x="311.1" y="611.42" font-size="12.3" text-anchor="end" textLength="6.43" lengthAdjust="spacingAndGlyphs">6</text>
<text x="311.1" y="598.94" font-size="12.3" text-anchor="end" textLength="6.43" lengthAdjust="spacingAndGlyphs">8</text>
<text x="311.1" y="586.46" font-size="12.3" text-anchor="end" textLength="12.86" lengthAdjust="spacingAndGlyphs">10</text>
<text x="311.1" y="573.98" font-size="12.3" text-anchor="end" textLength="12.86" lengthAdjust="spacingAndGlyphs">12</text>
<text x="311.1" y="561.5" font-size="12.3" text-anchor="end" textLength="12.86" lengthAdjust="spacingAndGlyphs">14</text>
<line x1="317.5" y1="613" x2="322.5" y2="613" stroke="#000" stroke-width="1.1"/>
<line x1="320" y1="622.4" x2="320" y2="678" stroke="#000" stroke-width="1.5"/>
<line x1="315.5" y1="678" x2="320" y2="678" stroke="#000" stroke-width="1.1"/>
<line x1="315.5" y1="664.2" x2="320" y2="664.2" stroke="#000" stroke-width="1.1"/>
<line x1="315.5" y1="650.4" x2="320" y2="650.4" stroke="#000" stroke-width="1.1"/>
<line x1="315.5" y1="636.6" x2="320" y2="636.6" stroke="#000" stroke-width="1.1"/>
<line x1="315.5" y1="622.8" x2="320" y2="622.8" stroke="#000" stroke-width="1.1"/>
<line x1="317.4" y1="675.24" x2="320" y2="675.24" stroke="#000" stroke-width="1.1"/>
<line x1="317.4" y1="672.48" x2="320" y2="672.48" stroke="#000" stroke-width="1.1"/>
<line x1="317.4" y1="669.72" x2="320" y2="669.72" stroke="#000" stroke-width="1.1"/>
<line x1="317.4" y1="666.96" x2="320" y2="666.96" stroke="#000" stroke-width="1.1"/>
<line x1="317.4" y1="661.44" x2="320" y2="661.44" stroke="#000" stroke-width="1.1"/>
<line x1="317.4" y1="658.68" x2="320" y2="658.68" stroke="#000" stroke-width="1.1"/>
<line x1="317.4" y1="655.92" x2="320" y2="655.92" stroke="#000" stroke-width="1.1"/>
<line x1="317.4" y1="653.16" x2="320" y2="653.16" stroke="#000" stroke-width="1.1"/>
<line x1="317.4" y1="647.64" x2="320" y2="647.64" stroke="#000" stroke-width="1.1"/>
<line x1="317.4" y1="644.88" x2="320" y2="644.88" stroke="#000" stroke-width="1.1"/>
<line x1="317.4" y1="642.12" x2="320" y2="642.12" stroke="#000" stroke-width="1.1"/>
<line x1="317.4" y1="639.36" x2="320" y2="639.36" stroke="#000" stroke-width="1.1"/>
<line x1="317.4" y1="633.84" x2="320" y2="633.84" stroke="#000" stroke-width="1.1"/>
<line x1="317.4" y1="631.08" x2="320" y2="631.08" stroke="#000" stroke-width="1.1"/>
<line x1="317.4" y1="628.32" x2="320" y2="628.32" stroke="#000" stroke-width="1.1"/>
<line x1="317.4" y1="625.56" x2="320" y2="625.56" stroke="#000" stroke-width="1.1"/>
<text x="311.1" y="682" font-size="12.3" text-anchor="end" textLength="16.07" lengthAdjust="spacingAndGlyphs">0.0</text>
<text x="311.1" y="668.2" font-size="12.3" text-anchor="end" textLength="16.07" lengthAdjust="spacingAndGlyphs">0.5</text>
<text x="311.1" y="654.4" font-size="12.3" text-anchor="end" textLength="16.07" lengthAdjust="spacingAndGlyphs">1.0</text>
<text x="311.1" y="640.6" font-size="12.3" text-anchor="end" textLength="16.07" lengthAdjust="spacingAndGlyphs">1.5</text>
<text x="311.1" y="626.8" font-size="12.3" text-anchor="end" textLength="16.07" lengthAdjust="spacingAndGlyphs">2.0</text>
<line x1="317.5" y1="622.9" x2="322.5" y2="622.9" stroke="#000" stroke-width="1.1"/>
<line x1="319.25" y1="678" x2="505.8" y2="678" stroke="#000" stroke-width="1.5"/>
<line x1="320" y1="678" x2="320" y2="682.5" stroke="#000" stroke-width="1.1"/>
<line x1="329.06" y1="678" x2="329.06" y2="680.6" stroke="#000" stroke-width="1.1"/>
<line x1="338.12" y1="678" x2="338.12" y2="680.6" stroke="#000" stroke-width="1.1"/>
<line x1="347.18" y1="678" x2="347.18" y2="680.6" stroke="#000" stroke-width="1.1"/>
<line x1="356.24" y1="678" x2="356.24" y2="680.6" stroke="#000" stroke-width="1.1"/>
<line x1="365.3" y1="678" x2="365.3" y2="682.5" stroke="#000" stroke-width="1.1"/>
<line x1="374.36" y1="678" x2="374.36" y2="680.6" stroke="#000" stroke-width="1.1"/>
<line x1="383.42" y1="678" x2="383.42" y2="680.6" stroke="#000" stroke-width="1.1"/>
<line x1="392.48" y1="678" x2="392.48" y2="680.6" stroke="#000" stroke-width="1.1"/>
<line x1="401.54" y1="678" x2="401.54" y2="680.6" stroke="#000" stroke-width="1.1"/>
<line x1="410.6" y1="678" x2="410.6" y2="682.5" stroke="#000" stroke-width="1.1"/>
<line x1="419.66" y1="678" x2="419.66" y2="680.6" stroke="#000" stroke-width="1.1"/>
<line x1="428.72" y1="678" x2="428.72" y2="680.6" stroke="#000" stroke-width="1.1"/>
<line x1="437.78" y1="678" x2="437.78" y2="680.6" stroke="#000" stroke-width="1.1"/>
<line x1="446.84" y1="678" x2="446.84" y2="680.6" stroke="#000" stroke-width="1.1"/>
<line x1="455.9" y1="678" x2="455.9" y2="682.5" stroke="#000" stroke-width="1.1"/>
<line x1="464.96" y1="678" x2="464.96" y2="680.6" stroke="#000" stroke-width="1.1"/>
<line x1="474.02" y1="678" x2="474.02" y2="680.6" stroke="#000" stroke-width="1.1"/>
<line x1="483.08" y1="678" x2="483.08" y2="680.6" stroke="#000" stroke-width="1.1"/>
<line x1="492.14" y1="678" x2="492.14" y2="680.6" stroke="#000" stroke-width="1.1"/>
<line x1="501.2" y1="678" x2="501.2" y2="682.5" stroke="#000" stroke-width="1.1"/>
<text x="320" y="697.9" font-size="12.3" text-anchor="middle" textLength="6.43" lengthAdjust="spacingAndGlyphs">0</text>
<text x="365.3" y="697.9" font-size="12.3" text-anchor="middle" textLength="6.43" lengthAdjust="spacingAndGlyphs">5</text>
<text x="410.6" y="697.9" font-size="12.3" text-anchor="middle" textLength="12.86" lengthAdjust="spacingAndGlyphs">10</text>
<text x="455.9" y="697.9" font-size="12.3" text-anchor="middle" textLength="12.86" lengthAdjust="spacingAndGlyphs">15</text>
<text x="501.2" y="697.9" font-size="12.3" text-anchor="middle" textLength="12.86" lengthAdjust="spacingAndGlyphs">20</text>
<polyline points="96.6,85.5 105.9,109.8" fill="none" stroke="#a6283d" stroke-width="1.3"/>
<polyline points="105.7,81.8 114.6,85.4 123.9,87.5 141.8,83.7" fill="none" stroke="#a6283d" stroke-width="1.3"/>
<polyline points="114.6,84.3 159.7,84.3" fill="none" stroke="#a6283d" stroke-width="1.3"/>
<polyline points="160.1,94.2 168.8,85 177.9,87.1" fill="none" stroke="#a6283d" stroke-width="1.3"/>
<polyline points="186.3,85.4 204.5,81.8" fill="none" stroke="#a6283d" stroke-width="1.3"/>
<polyline points="195.8,89.5 213.3,89.9" fill="none" stroke="#a6283d" stroke-width="1.3"/>
<rect x="67.03" y="79.23" width="5.73" height="5.73" fill="#a6283d"/>
<path d="M66.23,104.85L72.77,107.55M68.15,102.93L70.85,109.47M70.85,102.93L68.15,109.47M72.77,104.85L66.23,107.55" stroke="#a6283d" stroke-width="1.22" fill="none"/>
<circle cx="69.5" cy="106.2" r="1.71" fill="#a6283d"/>
<polygon points="78.6,84.18 81.71,79.3 75.49,79.3" fill="#a6283d"/>
<path d="M75.06,89.2H82.14M78.6,85.66V92.74" stroke="#a6283d" stroke-width="1.46" fill="none"/>
<polygon points="96.6,82.27 99.83,85.5 96.6,88.73 93.37,85.5" fill="#a6283d"/>
<polygon points="105.9,106.57 109.13,109.8 105.9,113.03 102.67,109.8" fill="#a6283d"/>
<polygon points="105.7,84.48 108.81,79.6 102.59,79.6" fill="none" stroke="#a6283d" stroke-width="1.25"/>
<polygon points="123.9,90.18 127.01,85.3 120.79,85.3" fill="none" stroke="#a6283d" stroke-width="1.25"/>
<polygon points="141.8,86.38 144.91,81.5 138.69,81.5" fill="none" stroke="#a6283d" stroke-width="1.25"/>
<polygon points="114.6,82.22 117.71,87.1 111.49,87.1" fill="#a6283d"/>
<polygon points="114.6,89.68 117.71,84.8 111.49,84.8" fill="#a6283d"/>
<circle cx="150.6" cy="91.9" r="2.81" fill="#a6283d"/>
<polygon points="159.7,82.72 162.81,87.6 156.59,87.6" fill="#a6283d"/>
<rect x="157.67" y="91.77" width="4.86" height="4.86" fill="none" stroke="#a6283d" stroke-width="1.25"/>
<rect x="166.37" y="82.57" width="4.86" height="4.86" fill="none" stroke="#a6283d" stroke-width="1.25"/>
<rect x="175.47" y="84.67" width="4.86" height="4.86" fill="none" stroke="#a6283d" stroke-width="1.25"/>
<polygon points="169.5,90.18 172.61,85.3 166.39,85.3" fill="#a6283d"/>
<circle cx="186.3" cy="85.4" r="2.43" fill="none" stroke="#a6283d" stroke-width="1.25"/>
<circle cx="204.5" cy="81.8" r="2.43" fill="none" stroke="#a6283d" stroke-width="1.25"/>
<polygon points="195.8,85.07 198.83,88.1 195.8,91.13 192.77,88.1" fill="none" stroke="#a6283d" stroke-width="1.25"/>
<polygon points="195.8,87.82 198.91,92.7 192.69,92.7" fill="#a6283d"/>
<polygon points="213.3,87.22 216.41,92.1 210.19,92.1" fill="none" stroke="#a6283d" stroke-width="1.25"/>
<polyline points="365.1,194.6 374.5,186.5" fill="none" stroke="#a6283d" stroke-width="1.3"/>
<polyline points="374.5,191.2 419.5,191.2" fill="none" stroke="#a6283d" stroke-width="1.3"/>
<polyline points="365.1,194.6 374.5,190 383.3,191.5 401.4,193.3" fill="none" stroke="#a6283d" stroke-width="1.3"/>
<polyline points="419.4,170.7 428.8,189.2 437.6,193.3" fill="none" stroke="#a6283d" stroke-width="1.3"/>
<polyline points="446.3,193.5 464.5,193.5" fill="none" stroke="#a6283d" stroke-width="1.3"/>
<polyline points="455.8,185.5 473.9,193.7" fill="none" stroke="#a6283d" stroke-width="1.3"/>
<path d="M325.93,158.75L332.47,161.45M327.85,156.83L330.55,163.37M330.55,156.83L327.85,163.37M332.47,158.75L325.93,161.45" stroke="#a6283d" stroke-width="1.22" fill="none"/>
<circle cx="329.2" cy="160.1" r="1.71" fill="#a6283d"/>
<rect x="326.53" y="191.93" width="5.73" height="5.73" fill="#a6283d"/>
<path d="M334.96,190H342.04M338.5,186.46V193.54" stroke="#a6283d" stroke-width="1.46" fill="none"/>
<polygon points="338.5,197.08 341.61,192.2 335.39,192.2" fill="#a6283d"/>
<polygon points="365.1,197.28 368.21,192.4 361.99,192.4" fill="#a6283d"/>
<polygon points="365.1,191.37 368.33,194.6 365.1,197.83 361.87,194.6" fill="#a6283d"/>
<polygon points="374.5,183.27 377.73,186.5 374.5,189.73 371.27,186.5" fill="#a6283d"/>
<polygon points="374.5,188.52 377.61,193.4 371.39,193.4" fill="#a6283d"/>
<polygon points="419.5,188.52 422.61,193.4 416.39,193.4" fill="#a6283d"/>
<polygon points="383.3,194.18 386.41,189.3 380.19,189.3" fill="none" stroke="#a6283d" stroke-width="1.25"/>
<polygon points="401.4,195.98 404.51,191.1 398.29,191.1" fill="none" stroke="#a6283d" stroke-width="1.25"/>
<circle cx="410.5" cy="178.9" r="2.81" fill="#a6283d"/>
<rect x="416.97" y="168.27" width="4.86" height="4.86" fill="none" stroke="#a6283d" stroke-width="1.25"/>
<rect x="426.37" y="186.77" width="4.86" height="4.86" fill="none" stroke="#a6283d" stroke-width="1.25"/>
<rect x="435.17" y="190.87" width="4.86" height="4.86" fill="none" stroke="#a6283d" stroke-width="1.25"/>
<polygon points="428.8,190.18 431.91,185.3 425.69,185.3" fill="#a6283d"/>
<circle cx="446.3" cy="193.5" r="2.43" fill="none" stroke="#a6283d" stroke-width="1.25"/>
<circle cx="464.5" cy="193.5" r="2.43" fill="none" stroke="#a6283d" stroke-width="1.25"/>
<polygon points="455.8,182.82 458.91,187.7 452.69,187.7" fill="#a6283d"/>
<polygon points="455.8,186.87 458.83,189.9 455.8,192.93 452.77,189.9" fill="none" stroke="#a6283d" stroke-width="1.25"/>
<polygon points="473.9,191.02 477.01,195.9 470.79,195.9" fill="none" stroke="#a6283d" stroke-width="1.25"/>
<polyline points="105.7,432.6 115.2,390.2" fill="none" stroke="#a6283d" stroke-width="1.3"/>
<polyline points="105.7,432 115.2,431.5 124.2,430.9 142.4,429.5" fill="none" stroke="#a6283d" stroke-width="1.3"/>
<polyline points="124.2,434.3 160,434.3" fill="none" stroke="#a6283d" stroke-width="1.3"/>
<polyline points="160.1,431.8 169.5,425.5 178.7,431.8" fill="none" stroke="#a6283d" stroke-width="1.3"/>
<polyline points="187.4,426.2 196.4,430.9 205.2,432.2" fill="none" stroke="#a6283d" stroke-width="1.3"/>
<polyline points="196.4,426.8 214.9,432.9" fill="none" stroke="#a6283d" stroke-width="1.3"/>
<path d="M66.53,413.85L73.07,416.55M68.45,411.93L71.15,418.47M71.15,411.93L68.45,418.47M73.07,413.85L66.53,416.55" stroke="#a6283d" stroke-width="1.22" fill="none"/>
<circle cx="69.8" cy="415.2" r="1.71" fill="#a6283d"/>
<rect x="66.93" y="431.83" width="5.73" height="5.73" fill="#a6283d"/>
<path d="M75.36,426.6H82.44M78.9,423.06V430.14" stroke="#a6283d" stroke-width="1.46" fill="none"/>
<polygon points="78.9,435.38 82.01,430.5 75.79,430.5" fill="#a6283d"/>
<polygon points="105.7,429.37 108.93,432.6 105.7,435.83 102.47,432.6" fill="#a6283d"/>
<polygon points="115.2,386.97 118.43,390.2 115.2,393.43 111.97,390.2" fill="#a6283d"/>
<polygon points="115.2,434.18 118.31,429.3 112.09,429.3" fill="none" stroke="#a6283d" stroke-width="1.25"/>
<polygon points="124.2,433.58 127.31,428.7 121.09,428.7" fill="none" stroke="#a6283d" stroke-width="1.25"/>
<polygon points="142.4,432.18 145.51,427.3 139.29,427.3" fill="none" stroke="#a6283d" stroke-width="1.25"/>
<polygon points="124.2,432.22 127.31,437.1 121.09,437.1" fill="#a6283d"/>
<circle cx="151.1" cy="425.5" r="2.81" fill="#a6283d"/>
<rect x="157.67" y="429.37" width="4.86" height="4.86" fill="none" stroke="#a6283d" stroke-width="1.25"/>
<rect x="167.07" y="423.07" width="4.86" height="4.86" fill="none" stroke="#a6283d" stroke-width="1.25"/>
<rect x="176.27" y="429.37" width="4.86" height="4.86" fill="none" stroke="#a6283d" stroke-width="1.25"/>
<polygon points="160,437.18 163.11,432.3 156.89,432.3" fill="#a6283d"/>
<polygon points="169.5,435.74 170.18,437.36 171.94,437.51 170.6,438.66 171.01,440.37 169.5,439.46 167.99,440.37 168.4,438.66 167.06,437.51 168.82,437.36" fill="#a6283d"/>
<circle cx="187.4" cy="426.2" r="2.43" fill="none" stroke="#a6283d" stroke-width="1.25"/>
<polygon points="196.4,424.12 199.51,429 193.29,429" fill="#a6283d"/>
<polygon points="196.4,427.87 199.43,430.9 196.4,433.93 193.37,430.9" fill="none" stroke="#a6283d" stroke-width="1.25"/>
<circle cx="205.2" cy="432.2" r="2.43" fill="none" stroke="#a6283d" stroke-width="1.25"/>
<polygon points="214.9,430.22 218.01,435.1 211.79,435.1" fill="none" stroke="#a6283d" stroke-width="1.25"/>
<polyline points="356.4,431.6 365.1,428.6" fill="none" stroke="#a6283d" stroke-width="1.3"/>
<polyline points="365.1,425.7 374.5,426 383.5,433.6 401.2,433.6" fill="none" stroke="#a6283d" stroke-width="1.3"/>
<polyline points="374.5,431.1 419.1,431.5" fill="none" stroke="#a6283d" stroke-width="1.3"/>
<polyline points="419.1,431.2 428.1,435.3 437.3,433" fill="none" stroke="#a6283d" stroke-width="1.3"/>
<polyline points="446.2,427.6 464.7,425.6" fill="none" stroke="#a6283d" stroke-width="1.3"/>
<polyline points="455.6,427.6 473.7,420.2" fill="none" stroke="#a6283d" stroke-width="1.3"/>
<path d="M325.93,422.55L332.47,425.25M327.85,420.63L330.55,427.17M330.55,420.63L327.85,427.17M332.47,422.55L325.93,425.25" stroke="#a6283d" stroke-width="1.22" fill="none"/>
<circle cx="329.2" cy="423.9" r="1.71" fill="#a6283d"/>
<rect x="326.33" y="425.73" width="5.73" height="5.73" fill="#a6283d"/>
<path d="M334.66,411.8H341.74M338.2,408.26V415.34" stroke="#a6283d" stroke-width="1.46" fill="none"/>
<polygon points="338.2,421.88 341.31,417 335.09,417" fill="#a6283d"/>
<polygon points="356.4,428.37 359.63,431.6 356.4,434.83 353.17,431.6" fill="#a6283d"/>
<polygon points="365.1,425.37 368.33,428.6 365.1,431.83 361.87,428.6" fill="#a6283d"/>
<polygon points="365.1,428.38 368.21,423.5 361.99,423.5" fill="none" stroke="#a6283d" stroke-width="1.25"/>
<polygon points="374.5,428.68 377.61,423.8 371.39,423.8" fill="none" stroke="#a6283d" stroke-width="1.25"/>
<polygon points="383.5,436.28 386.61,431.4 380.39,431.4" fill="none" stroke="#a6283d" stroke-width="1.25"/>
<polygon points="401.2,436.28 404.31,431.4 398.09,431.4" fill="none" stroke="#a6283d" stroke-width="1.25"/>
<polygon points="374.5,428.42 377.61,433.3 371.39,433.3" fill="#a6283d"/>
<circle cx="410.4" cy="417.5" r="2.81" fill="#a6283d"/>
<rect x="416.67" y="428.77" width="4.86" height="4.86" fill="none" stroke="#a6283d" stroke-width="1.25"/>
<rect x="425.67" y="432.87" width="4.86" height="4.86" fill="none" stroke="#a6283d" stroke-width="1.25"/>
<rect x="434.87" y="430.57" width="4.86" height="4.86" fill="none" stroke="#a6283d" stroke-width="1.25"/>
<polygon points="419.1,428.82 422.21,433.7 415.99,433.7" fill="#a6283d"/>
<circle cx="446.2" cy="427.6" r="2.43" fill="none" stroke="#a6283d" stroke-width="1.25"/>
<circle cx="464.7" cy="425.6" r="2.43" fill="none" stroke="#a6283d" stroke-width="1.25"/>
<polygon points="455.6,424.92 458.71,429.8 452.49,429.8" fill="none" stroke="#a6283d" stroke-width="1.25"/>
<polygon points="455.6,429.97 458.63,433 455.6,436.03 452.57,433" fill="none" stroke="#a6283d" stroke-width="1.25"/>
<polygon points="473.7,417.52 476.81,422.4 470.59,422.4" fill="none" stroke="#a6283d" stroke-width="1.25"/>
<polygon points="428.1,334.94 428.78,336.56 430.54,336.71 429.2,337.86 429.61,339.57 428.1,338.66 426.59,339.57 427,337.86 425.66,336.71 427.42,336.56" fill="#a6283d"/>
<polyline points="96.8,673.6 106,662.2" fill="none" stroke="#a6283d" stroke-width="1.3"/>
<polyline points="106,672 114.5,673 124.1,660.9 142.3,675.3" fill="none" stroke="#a6283d" stroke-width="1.3"/>
<polyline points="114.5,676 160.1,676" fill="none" stroke="#a6283d" stroke-width="1.3"/>
<polyline points="160.1,655.9 169,666.2 178.1,655.9" fill="none" stroke="#a6283d" stroke-width="1.3"/>
<polyline points="186.9,675.3 205.5,674.3" fill="none" stroke="#a6283d" stroke-width="1.3"/>
<path d="M66.13,673.15L72.67,675.85M68.05,671.23L70.75,677.77M70.75,671.23L68.05,677.77M72.67,673.15L66.13,675.85" stroke="#a6283d" stroke-width="1.22" fill="none"/>
<circle cx="69.4" cy="674.5" r="1.71" fill="#a6283d"/>
<rect x="66.53" y="673.63" width="5.73" height="5.73" fill="#a6283d"/>
<polygon points="78.5,678.98 81.61,674.1 75.39,674.1" fill="#a6283d"/>
<polygon points="96.8,670.37 100.03,673.6 96.8,676.83 93.57,673.6" fill="#a6283d"/>
<polygon points="106,658.97 109.23,662.2 106,665.43 102.77,662.2" fill="#a6283d"/>
<polygon points="106,674.68 109.11,669.8 102.89,669.8" fill="none" stroke="#a6283d" stroke-width="1.25"/>
<polygon points="114.5,675.68 117.61,670.8 111.39,670.8" fill="none" stroke="#a6283d" stroke-width="1.25"/>
<polygon points="124.1,663.58 127.21,658.7 120.99,658.7" fill="none" stroke="#a6283d" stroke-width="1.25"/>
<polygon points="142.3,677.98 145.41,673.1 139.19,673.1" fill="none" stroke="#a6283d" stroke-width="1.25"/>
<polygon points="114.5,673.62 117.61,678.5 111.39,678.5" fill="#a6283d"/>
<circle cx="151" cy="675.3" r="2.81" fill="#a6283d"/>
<polygon points="160.1,673.02 163.21,677.9 156.99,677.9" fill="#a6283d"/>
<rect x="157.67" y="653.47" width="4.86" height="4.86" fill="none" stroke="#a6283d" stroke-width="1.25"/>
<rect x="166.57" y="663.77" width="4.86" height="4.86" fill="none" stroke="#a6283d" stroke-width="1.25"/>
<rect x="175.67" y="653.47" width="4.86" height="4.86" fill="none" stroke="#a6283d" stroke-width="1.25"/>
<polygon points="169.2,630.94 169.88,632.56 171.64,632.71 170.3,633.86 170.71,635.57 169.2,634.66 167.69,635.57 168.1,633.86 166.76,632.71 168.52,632.56" fill="#a6283d"/>
<circle cx="186.9" cy="675.3" r="2.43" fill="none" stroke="#a6283d" stroke-width="1.25"/>
<circle cx="205.5" cy="674.3" r="2.43" fill="none" stroke="#a6283d" stroke-width="1.25"/>
<polygon points="196.1,668.57 199.13,671.6 196.1,674.63 193.07,671.6" fill="none" stroke="#a6283d" stroke-width="1.25"/>
<polygon points="196.1,675.72 199.21,680.6 192.99,680.6" fill="#a6283d"/>
<polygon points="214.5,674.72 217.61,679.6 211.39,679.6" fill="none" stroke="#a6283d" stroke-width="1.25"/>
<polyline points="356.4,650.1 364.8,669.9" fill="none" stroke="#a6283d" stroke-width="1.3"/>
<polyline points="364.8,677.4 373.4,670.3 382.8,663.6 401.2,668.3" fill="none" stroke="#a6283d" stroke-width="1.3"/>
<polyline points="373.4,672.3 419.5,670.7" fill="none" stroke="#a6283d" stroke-width="1.3"/>
<polyline points="419.1,678.1 428.1,674.7 437.3,672.3" fill="none" stroke="#a6283d" stroke-width="1.3"/>
<polyline points="446.2,675.3 455.8,672.3 464.7,666.2 473.7,676.3" fill="none" stroke="#a6283d" stroke-width="1.3"/>
<path d="M325.93,652.15L332.47,654.85M327.85,650.23L330.55,656.77M330.55,650.23L327.85,656.77M332.47,652.15L325.93,654.85" stroke="#a6283d" stroke-width="1.22" fill="none"/>
<circle cx="329.2" cy="653.5" r="1.71" fill="#a6283d"/>
<rect x="326.33" y="664.03" width="5.73" height="5.73" fill="#a6283d"/>
<path d="M334.66,669.9H341.74M338.2,666.36V673.44" stroke="#a6283d" stroke-width="1.46" fill="none"/>
<polygon points="338.2,680.38 341.31,675.5 335.09,675.5" fill="#a6283d"/>
<polygon points="356.4,646.87 359.63,650.1 356.4,653.33 353.17,650.1" fill="#a6283d"/>
<polygon points="364.8,666.67 368.03,669.9 364.8,673.13 361.57,669.9" fill="#a6283d"/>
<polygon points="364.8,680.08 367.91,675.2 361.69,675.2" fill="none" stroke="#a6283d" stroke-width="1.25"/>
<polygon points="373.4,672.98 376.51,668.1 370.29,668.1" fill="none" stroke="#a6283d" stroke-width="1.25"/>
<polygon points="382.8,666.28 385.91,661.4 379.69,661.4" fill="none" stroke="#a6283d" stroke-width="1.25"/>
<polygon points="401.2,670.98 404.31,666.1 398.09,666.1" fill="none" stroke="#a6283d" stroke-width="1.25"/>
<polygon points="373.4,669.62 376.51,674.5 370.29,674.5" fill="#a6283d"/>
<polygon points="419.5,668.02 422.61,672.9 416.39,672.9" fill="#a6283d"/>
<circle cx="410.1" cy="672.3" r="2.81" fill="#a6283d"/>
<rect x="416.67" y="675.67" width="4.86" height="4.86" fill="none" stroke="#a6283d" stroke-width="1.25"/>
<rect x="425.67" y="672.27" width="4.86" height="4.86" fill="none" stroke="#a6283d" stroke-width="1.25"/>
<rect x="434.87" y="669.87" width="4.86" height="4.86" fill="none" stroke="#a6283d" stroke-width="1.25"/>
<polygon points="428.1,680.68 431.21,675.8 424.99,675.8" fill="#a6283d"/>
<circle cx="446.2" cy="675.3" r="2.43" fill="none" stroke="#a6283d" stroke-width="1.25"/>
<polygon points="455.8,669.27 458.83,672.3 455.8,675.33 452.77,672.3" fill="none" stroke="#a6283d" stroke-width="1.25"/>
<circle cx="464.7" cy="666.2" r="2.43" fill="none" stroke="#a6283d" stroke-width="1.25"/>
<polygon points="455.3,661.52 458.41,666.4 452.19,666.4" fill="none" stroke="#a6283d" stroke-width="1.25"/>
<polygon points="473.7,673.62 476.81,678.5 470.59,678.5" fill="none" stroke="#a6283d" stroke-width="1.25"/>
<line x1="128.9" y1="738.1" x2="139.7" y2="738.1" stroke="#a6283d" stroke-width="1.4"/>
<circle cx="134.3" cy="738.1" r="2.3" fill="#a6283d"/>
<text x="144.4" y="741.3" font-size="10.4" text-anchor="start" textLength="11.45" lengthAdjust="spacingAndGlyphs">P1</text>
<line x1="170.3" y1="738.1" x2="181.1" y2="738.1" stroke="#a6283d" stroke-width="1.4"/>
<rect x="173.95" y="736.35" width="3.5" height="3.5" fill="#c98a96" stroke="#a6283d" stroke-width="1.2"/>
<text x="185.8" y="741.3" font-size="10.4" text-anchor="start" textLength="11.45" lengthAdjust="spacingAndGlyphs">P2</text>
<line x1="212.2" y1="738.1" x2="223" y2="738.1" stroke="#a6283d" stroke-width="1.4"/>
<polygon points="217.6,735.9 220.15,739.9 215.05,739.9" fill="#a6283d"/>
<text x="227.7" y="741.3" font-size="10.4" text-anchor="start" textLength="11.45" lengthAdjust="spacingAndGlyphs">P3</text>
<line x1="259.2" y1="738.1" x2="270" y2="738.1" stroke="#a6283d" stroke-width="1.4"/>
<polygon points="264.6,740.3 267.15,736.3 262.05,736.3" fill="#a6283d"/>
<text x="274.7" y="741.3" font-size="10.4" text-anchor="start" textLength="11.45" lengthAdjust="spacingAndGlyphs">P4</text>
<line x1="307.3" y1="738.1" x2="318.1" y2="738.1" stroke="#a6283d" stroke-width="1.4"/>
<polygon points="312.7,735.45 315.35,738.1 312.7,740.75 310.05,738.1" fill="#a6283d"/>
<text x="322.8" y="741.3" font-size="10.4" text-anchor="start" textLength="11.45" lengthAdjust="spacingAndGlyphs">P5</text>
<line x1="355.6" y1="738.1" x2="366.4" y2="738.1" stroke="#a6283d" stroke-width="1.4"/>
<circle cx="361" cy="738.1" r="1.88" fill="none" stroke="#a6283d" stroke-width="1.25"/>
<text x="371.1" y="741.3" font-size="10.4" text-anchor="start" textLength="11.45" lengthAdjust="spacingAndGlyphs">P6</text>
<line x1="403.1" y1="738.1" x2="413.9" y2="738.1" stroke="#a6283d" stroke-width="1.4"/>
<rect x="406.62" y="736.22" width="3.76" height="3.76" fill="none" stroke="#a6283d" stroke-width="1.25"/>
<text x="418.6" y="741.3" font-size="10.4" text-anchor="start" textLength="11.45" lengthAdjust="spacingAndGlyphs">P7</text>
<line x1="128.9" y1="754.8" x2="139.7" y2="754.8" stroke="#a6283d" stroke-width="1.4"/>
<polygon points="134.3,752.6 136.85,756.6 131.75,756.6" fill="none" stroke="#a6283d" stroke-width="1.25"/>
<text x="144.4" y="758.2" font-size="10.4" text-anchor="start" textLength="11.45" lengthAdjust="spacingAndGlyphs">P8</text>
<line x1="170.3" y1="754.8" x2="181.1" y2="754.8" stroke="#a6283d" stroke-width="1.4"/>
<polygon points="175.7,757 178.25,753 173.15,753" fill="none" stroke="#a6283d" stroke-width="1.25"/>
<text x="185.8" y="758.2" font-size="10.4" text-anchor="start" textLength="11.45" lengthAdjust="spacingAndGlyphs">P9</text>
<line x1="212.2" y1="754.8" x2="223" y2="754.8" stroke="#a6283d" stroke-width="1.4"/>
<polygon points="217.6,752.35 220.05,754.8 217.6,757.25 215.15,754.8" fill="none" stroke="#a6283d" stroke-width="1.25"/>
<text x="227.7" y="758.2" font-size="10.4" text-anchor="start" textLength="16.65" lengthAdjust="spacingAndGlyphs">P10</text>
<line x1="259.2" y1="754.8" x2="270" y2="754.8" stroke="#a6283d" stroke-width="1.4"/>
<path d="M261.12,753.36L268.08,756.24M263.16,751.32L266.04,758.28M266.04,751.32L263.16,758.28M268.08,753.36L261.12,756.24" stroke="#a6283d" stroke-width="1.3" fill="none"/>
<circle cx="264.6" cy="754.8" r="1.82" fill="#a6283d"/>
<text x="274.7" y="758.2" font-size="10.4" text-anchor="start" textLength="16.65" lengthAdjust="spacingAndGlyphs">P11</text>
<line x1="307.3" y1="754.8" x2="318.1" y2="754.8" stroke="#a6283d" stroke-width="1.4"/>
<polygon points="312.7,753.12 313.15,754.19 314.3,754.28 313.42,755.03 313.69,756.16 312.7,755.56 311.71,756.16 311.98,755.03 311.1,754.28 312.25,754.19" fill="#a6283d"/>
<text x="322.8" y="758.2" font-size="10.4" text-anchor="start" textLength="16.65" lengthAdjust="spacingAndGlyphs">P12</text>
<line x1="355.6" y1="754.8" x2="366.4" y2="754.8" stroke="#a6283d" stroke-width="1.4"/>
<path d="M358.1,754.8H363.9M361,751.9V757.7" stroke="#a6283d" stroke-width="1.2" fill="none"/>
<text x="371.1" y="758.2" font-size="10.4" text-anchor="start" textLength="16.65" lengthAdjust="spacingAndGlyphs">P13</text>
<g><rect x="117.11" y="45.12" width="3.11" height="2.13" fill="#fff"/><rect x="121.42" y="45.12" width="2.77" height="2.13" fill="#fff"/><rect transform="translate(22.8,171.2) rotate(-90)" x="49.50" y="-1.48" width="3.07" height="2.13" fill="#fff"/><rect transform="translate(22.8,171.2) rotate(-90)" x="53.75" y="-1.48" width="2.74" height="2.13" fill="#fff"/><rect x="32.64" y="79.33" width="2.68" height="2.02" fill="#fff"/><rect x="36.34" y="79.33" width="2.39" height="2.02" fill="#fff"/><rect x="144.70" y="215.93" width="2.68" height="2.02" fill="#fff"/><rect x="148.40" y="215.93" width="2.39" height="2.02" fill="#fff"/><rect x="189.75" y="215.93" width="2.68" height="2.02" fill="#fff"/><rect x="193.45" y="215.93" width="2.39" height="2.02" fill="#fff"/><rect x="372.56" y="45.32" width="3.15" height="2.13" fill="#fff"/><rect x="376.92" y="45.32" width="2.81" height="2.13" fill="#fff"/><rect transform="translate(288.8,171.7) rotate(-90)" x="49.92" y="-1.48" width="3.09" height="2.13" fill="#fff"/><rect transform="translate(288.8,171.7) rotate(-90)" x="54.20" y="-1.48" width="2.76" height="2.13" fill="#fff"/><rect x="298.87" y="162.83" width="2.68" height="2.02" fill="#fff"/><rect x="302.57" y="162.83" width="2.39" height="2.02" fill="#fff"/><rect x="404.40" y="215.93" width="2.68" height="2.02" fill="#fff"/><rect x="408.10" y="215.93" width="2.39" height="2.02" fill="#fff"/><rect x="449.70" y="215.93" width="2.68" height="2.02" fill="#fff"/><rect x="453.40" y="215.93" width="2.39" height="2.02" fill="#fff"/><rect x="114.87" y="285.72" width="3.13" height="2.13" fill="#fff"/><rect x="119.22" y="285.72" width="2.80" height="2.13" fill="#fff"/><rect transform="translate(30.1,412.5) rotate(-90)" x="50.26" y="-1.48" width="3.11" height="2.13" fill="#fff"/><rect transform="translate(30.1,412.5) rotate(-90)" x="54.58" y="-1.48" width="2.78" height="2.13" fill="#fff"/><rect x="39.07" y="384.43" width="2.68" height="2.02" fill="#fff"/><rect x="42.77" y="384.43" width="2.39" height="2.02" fill="#fff"/><rect x="144.70" y="456.23" width="2.68" height="2.02" fill="#fff"/><rect x="148.40" y="456.23" width="2.39" height="2.02" fill="#fff"/><rect x="189.75" y="456.23" width="2.68" height="2.02" fill="#fff"/><rect x="193.45" y="456.23" width="2.39" height="2.02" fill="#fff"/><rect x="365.34" y="285.72" width="3.19" height="2.13" fill="#fff"/><rect x="369.76" y="285.72" width="2.85" height="2.13" fill="#fff"/><rect transform="translate(289.4,411.9) rotate(-90)" x="49.50" y="-1.48" width="3.07" height="2.13" fill="#fff"/><rect transform="translate(289.4,411.9) rotate(-90)" x="53.75" y="-1.48" width="2.74" height="2.13" fill="#fff"/><rect x="404.40" y="456.23" width="2.68" height="2.02" fill="#fff"/><rect x="408.10" y="456.23" width="2.39" height="2.02" fill="#fff"/><rect x="449.60" y="456.23" width="2.68" height="2.02" fill="#fff"/><rect x="453.30" y="456.23" width="2.39" height="2.02" fill="#fff"/><rect x="109.96" y="526.02" width="3.16" height="2.13" fill="#fff"/><rect x="114.35" y="526.02" width="2.82" height="2.13" fill="#fff"/><rect transform="translate(30.1,652.2) rotate(-90)" x="49.71" y="-1.48" width="3.08" height="2.13" fill="#fff"/><rect transform="translate(30.1,652.2) rotate(-90)" x="53.98" y="-1.48" width="2.75" height="2.13" fill="#fff"/><rect x="39.17" y="624.73" width="2.68" height="2.02" fill="#fff"/><rect x="42.87" y="624.73" width="2.39" height="2.02" fill="#fff"/><rect x="144.70" y="696.53" width="2.68" height="2.02" fill="#fff"/><rect x="148.40" y="696.53" width="2.39" height="2.02" fill="#fff"/><rect x="189.75" y="696.53" width="2.68" height="2.02" fill="#fff"/><rect x="193.45" y="696.53" width="2.39" height="2.02" fill="#fff"/><rect x="365.96" y="526.02" width="3.16" height="2.13" fill="#fff"/><rect x="370.34" y="526.02" width="2.82" height="2.13" fill="#fff"/><rect transform="translate(286.1,652.5) rotate(-90)" x="49.92" y="-1.48" width="3.09" height="2.13" fill="#fff"/><rect transform="translate(286.1,652.5) rotate(-90)" x="54.20" y="-1.48" width="2.76" height="2.13" fill="#fff"/><rect x="298.47" y="585.09" width="2.68" height="2.02" fill="#fff"/><rect x="302.17" y="585.09" width="2.39" height="2.02" fill="#fff"/><rect x="298.47" y="572.61" width="2.68" height="2.02" fill="#fff"/><rect x="302.17" y="572.61" width="2.39" height="2.02" fill="#fff"/><rect x="298.47" y="560.13" width="2.68" height="2.02" fill="#fff"/><rect x="302.17" y="560.13" width="2.39" height="2.02" fill="#fff"/><rect x="295.26" y="653.03" width="2.68" height="2.02" fill="#fff"/><rect x="298.96" y="653.03" width="2.39" height="2.02" fill="#fff"/><rect x="295.26" y="639.23" width="2.68" height="2.02" fill="#fff"/><rect x="298.96" y="639.23" width="2.39" height="2.02" fill="#fff"/><rect x="404.40" y="696.53" width="2.68" height="2.02" fill="#fff"/><rect x="408.10" y="696.53" width="2.39" height="2.02" fill="#fff"/><rect x="449.70" y="696.53" width="2.68" height="2.02" fill="#fff"/><rect x="453.40" y="696.53" width="2.39" height="2.02" fill="#fff"/><rect x="150.81" y="740.07" width="2.17" height="1.88" fill="#fff"/><rect x="153.82" y="740.07" width="1.94" height="1.88" fill="#fff"/><rect x="234.11" y="756.97" width="2.17" height="1.88" fill="#fff"/><rect x="237.12" y="756.97" width="1.94" height="1.88" fill="#fff"/><rect x="281.37" y="756.97" width="1.96" height="1.88" fill="#fff"/><rect x="284.09" y="756.97" width="1.75" height="1.88" fill="#fff"/><rect x="286.09" y="756.97" width="2.27" height="1.88" fill="#fff"/><rect x="289.24" y="756.97" width="2.02" height="1.88" fill="#fff"/><rect x="329.21" y="756.97" width="2.17" height="1.88" fill="#fff"/><rect x="332.22" y="756.97" width="1.94" height="1.88" fill="#fff"/><rect x="377.51" y="756.97" width="2.17" height="1.88" fill="#fff"/><rect x="380.52" y="756.97" width="1.94" height="1.88" fill="#fff"/></g>
</svg>
</body></html>
